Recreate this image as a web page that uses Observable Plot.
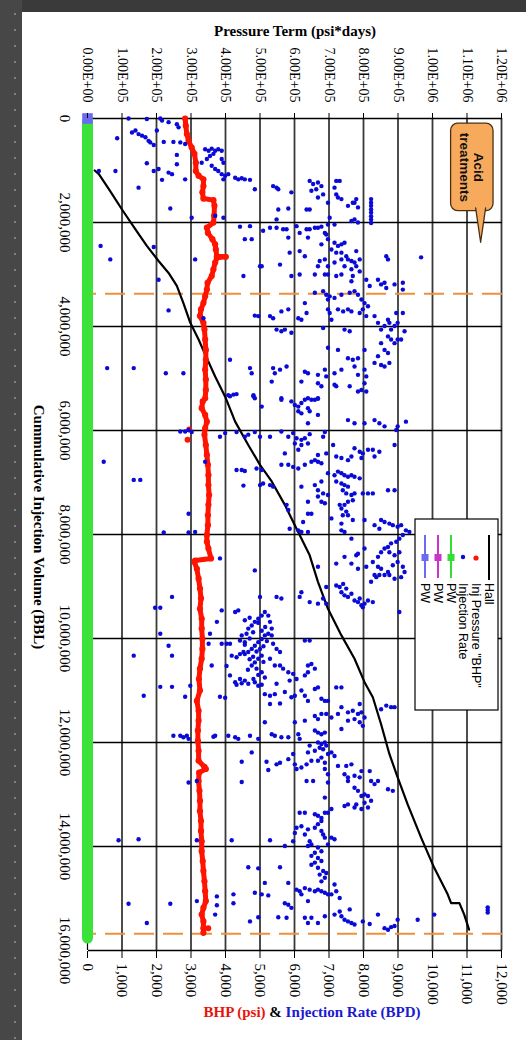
<!DOCTYPE html>
<html><head><meta charset="utf-8">
<script src="https://cdn.jsdelivr.net/npm/d3@7"></script>
<script src="https://cdn.jsdelivr.net/npm/@observablehq/plot@0.6"></script>
<style>
html,body{margin:0;padding:0;background:#3a3a3a;width:526px;height:1040px;overflow:hidden;}
#strip{position:absolute;left:0;top:0;width:22px;height:1040px;background-color:#474747;background-image:radial-gradient(circle,#808080 0.9px,transparent 1.4px);background-size:22px 16px;background-position:4px 6px;}
#page{position:absolute;left:22px;top:12px;width:504px;height:1028px;background:#fff;overflow:hidden;}
#land{position:absolute;left:0;top:0;width:1028px;height:504px;transform-origin:0 0;transform:translate(504px,0) rotate(90deg);}
</style></head>
<body>
<div id="strip"></div>
<div id="page"><div id="land"></div></div>
<script>
// ---- axis ticks and labels ----
const volTicks = [0, 2e6, 4e6, 6e6, 8e6, 10e6, 12e6, 14e6, 16e6];
const volTickLabels = ["0","2,000,000","4,000,000","6,000,000","8,000,000","10,000,000","12,000,000","14,000,000","16,000,000"];
const valTicks = [0,1000,2000,3000,4000,5000,6000,7000,8000,9000,10000,11000,12000];
const rateTickLabels = ["0","1,000","2,000","3,000","4,000","5,000","6,000","7,000","8,000","9,000","10,000","11,000","12,000"];
const hallTickLabels = ["0.00E+00","1.00E+05","2.00E+05","3.00E+05","4.00E+05","5.00E+05","6.00E+05","7.00E+05","8.00E+05","9.00E+05","1.00E+06","1.10E+06","1.20E+06"];
const hallMax = 1.2e6, rateMax = 12000;
const legendLabels = ["Hall","Inj Pressure \"BHP\"","Injection Rate","PW","PW","PW"];
const titleHall = "Pressure Term (psi*days)";
const titleVol = "Cummulative Injection Volume (BBL)";
const calloutText = "Acid\ntreatments";

// ---- series: [cumulative volume (MM bbl), value] ----
const hall = [[1.0,21000],[1.07,33000],[1.36,62000],[1.75,100000],[2.13,139000],[2.45,172000],[2.74,206000],[2.97,235000],[3.22,259000],[3.55,278000],[3.93,298000],[4.25,322000],[4.61,346000],[4.96,370000],[5.35,399000],[5.83,428000],[6.28,466000],[6.66,500000],[6.98,534000],[7.43,572000],[7.89,606000],[8.40,644000],[8.91,668000],[9.43,697000],[9.94,736000],[10.39,774000],[10.84,803000],[11.13,827000],[11.65,851000],[12.22,875000],[12.67,899000],[13.19,928000],[13.83,967000],[14.41,1005000],[14.92,1044000],[15.09,1054000],[15.09,1078000],[15.31,1092000],[15.60,1106000]];

const bhp = [[0.0,2830],[0.14,2850],[0.30,2880],[0.43,2930],[0.56,3020],[0.68,3100],[0.85,3140],[1.01,3140],[1.10,3220],[1.17,3360],[1.30,3360],[1.42,3330],[1.54,3360],[1.57,3650],[1.68,3680],[1.87,3670],[2.00,3650],[2.10,3460],[2.20,3490],[2.32,3620],[2.42,3700],[2.52,3720],[2.65,3750],[2.66,4010],[2.68,3750],[2.77,3700],[2.90,3650],[3.03,3600],[3.16,3480],[3.29,3460],[3.42,3410],[3.55,3360],[3.67,3290],[3.80,3260],[3.93,3360],[4.06,3390],[4.25,3410],[4.45,3430],[4.64,3430],[4.83,3410],[5.02,3430],[5.22,3430],[5.38,3410],[5.44,3340],[5.57,3310],[5.70,3410],[5.83,3460],[5.96,3410],[6.08,3390],[6.28,3430],[6.47,3460],[6.66,3490],[6.86,3505],[7.05,3505],[7.24,3525],[7.43,3505],[7.63,3490],[7.82,3490],[8.01,3460],[8.14,3460],[8.27,3505],[8.46,3580],[8.50,3120],[8.53,3100],[8.66,3170],[8.85,3220],[9.04,3260],[9.23,3290],[9.43,3260],[9.62,3310],[9.81,3310],[10.01,3330],[10.20,3330],[10.39,3310],[10.58,3260],[10.78,3230],[11.00,3260],[11.20,3170],[11.39,3220],[11.58,3220],[11.77,3200],[11.97,3200],[12.16,3220],[12.35,3220],[12.47,3390],[12.51,3430],[12.58,3235],[12.74,3220],[12.93,3245],[13.12,3260],[13.32,3260],[13.51,3290],[13.70,3290],[13.90,3310],[14.09,3310],[14.28,3340],[14.47,3360],[14.67,3390],[14.86,3410],[15.05,3430],[15.18,3360],[15.31,3310],[15.44,3360],[15.57,3360],[15.66,3360]];
const bhpOutliers = [[6.18,2900],[15.57,3500],[5.98,2950]];

const injectionRate = [
[0.0,1190],[0.01,1720],[0.0,2110],[0.04,2160],[0.07,2350],[0.11,2590],[0.17,2640],[0.23,2010],[0.27,1290],[0.23,1390],[0.30,1480],[0.33,1580],[0.36,1680],[0.43,1770],[0.46,1820],[0.38,860],[0.45,2210],[0.45,2490],[0.46,2690],[0.49,2830],[0.51,1920],[0.59,3410],[0.62,3510],[0.58,3600],[0.62,3700],[0.59,3790],[0.62,3890],[0.68,3650],[0.72,3550],[0.78,3460],[0.78,3890],[0.85,3940],[0.85,3310],[0.70,2590],[0.86,1720],[0.88,2590],[0.97,2060],[1.01,1920],[1.04,2350],[1.07,2450],[1.18,2160],[1.17,2830],[0.91,3600],[0.97,3700],[1.01,3790],[1.07,3890],[1.10,3990],[1.17,3940],[1.07,4080],[1.14,4280],[1.17,4370],[1.15,4470],[1.17,4560],[1.18,4710],[1.36,4850],[1.30,5380],[1.33,5480],[1.36,5530],[1.01,330],[1.01,810],[1.33,1480],[1.42,5910],[1.73,2400],[1.91,3020],[1.87,3700],[1.91,3940],
[1.20,6440],[1.26,6540],[1.23,6680],[1.30,6780],[1.36,6630],[1.39,6490],[1.46,6830],[1.52,6680],[1.20,7210],[1.20,7310],[1.33,7160],[1.46,7210],[1.52,7260],[1.55,7360],[1.55,7790],[1.62,7690],[1.68,7550],[1.71,7840],[1.62,7740],
[1.55,8220],[1.62,8220],[1.68,8220],[1.75,8220],[1.81,8220],[1.88,8220],[1.94,8220],[2.01,8220],
[1.62,6970],[1.73,5820],[1.75,5530],[1.75,6350],[1.75,6440],[1.91,7020],[1.94,5480],[1.94,7740],[1.97,7650],[2.00,7840],[2.04,6970],[2.04,7160],
[2.08,4420],[2.07,4710],[2.16,5090],[2.10,5290],[2.10,5480],[2.13,5670],[2.13,5770],[2.32,4560],[2.32,4760],[2.29,5820],[2.07,6060],[2.20,6150],[2.13,6350],[2.13,6440],[2.10,6590],[2.10,6680],[2.08,6780],[2.20,6880],[2.29,6390],[2.23,6920],[2.32,6970],[2.42,6780],[2.39,7160],[2.45,7260],[2.42,7360],[2.39,7450],[2.52,7070],[2.58,7210],[2.58,7360],[2.65,7500],[2.71,7550],[2.74,7650],[2.77,7740],[2.84,7790],[2.90,7650],[2.84,7450],[2.71,7360],[2.77,7160],[2.84,6970],[2.71,6880],[2.74,6730],[2.84,6680],[2.55,7790],[2.71,7890],[3.03,7690],[3.13,7650],[2.94,7890],
[2.58,5860],[2.55,6150],[2.65,6300],[2.81,5580],[2.84,5000],[2.84,5050],[3.03,4520],[3.03,5910],[3.00,6150],[3.00,6590],[3.00,6880],[3.00,6970],[3.03,7210],[3.00,7360],
[2.65,8660],[2.71,8710],[2.45,380],[2.71,660],[2.47,1920],[2.71,3120],[3.10,2060],
[3.10,8080],[3.22,8180],[3.10,8420],[3.19,8510],[3.16,8610],[3.26,8660],[3.19,8900],[3.16,9140],[3.29,9140],
[3.35,6590],[3.32,6830],[3.39,6920],[3.42,7020],[3.48,6970],[3.45,7160],[3.39,7360],[3.35,7600],[3.32,7740],[3.39,7840],[3.48,7940],[3.55,8030],[3.67,7980],[3.61,8130],[3.74,7890],[3.80,8080],[3.80,8320],[3.93,8420],[4.06,8510],[3.99,8610],[3.87,8710],[3.93,8750],[4.06,8800],[3.99,8900],[3.93,8990],[3.74,8950],[3.74,9140],[4.19,8710],[4.25,8800],[4.32,8900],[4.25,8990],[4.25,9090],[4.09,9190],[4.32,8510],[4.45,8610],[4.51,8710],[4.57,8420],[4.70,8320],[4.74,8510],[4.77,8610],[4.70,8750],
[3.55,6300],[3.74,6350],[3.67,5820],[3.71,5620],[3.84,5380],[3.80,5290],[3.79,4850],[3.80,4950],[3.84,6110],[3.87,6200],[3.67,6970],[3.74,7020],[3.87,7070],[3.67,7260],[3.71,7410],[3.67,7550],[3.71,7650],
[4.06,5480],[4.09,5620],[4.06,5720],[4.12,5910],[4.03,6830],[4.06,7450],[4.09,7600],[4.41,6970],[4.45,7260],[4.61,7550],[4.64,7690],[4.61,7840],[4.45,8030],[4.83,8030],[4.96,8080],[5.09,8030],
[4.64,4130],[4.80,4710],[4.90,4760],[4.80,5380],[4.90,5430],[4.83,5580],[4.77,5770],[5.06,5340],[4.87,6300],[4.90,6390],[4.93,6680],[4.83,6880],[4.96,6920],[4.90,7160],[4.83,7360],[4.77,7740],[4.93,7840],[5.06,6200],[5.09,6680],[5.15,6780],[5.12,7160],[5.15,7210],[5.15,7600],[5.25,7840],[5.22,7940],[5.25,8080],
[4.80,570],[4.80,1340],[4.90,2270],[4.90,2780],[3.69,2350],[3.84,3360],
[5.32,4080],[5.30,4320],[5.32,4810],[5.38,4850],[5.38,5620],[5.38,6390],[5.38,6680],[2.67,9670],
[5.34,4130],[5.31,4230],[5.34,4810],[5.54,5050],[5.41,5620],[5.44,5910],[5.51,6010],[5.54,6110],[5.47,6200],[5.41,6300],[5.57,6390],[5.63,6440],[5.41,6490],[5.41,6590],[5.39,6680],[5.63,6110],[5.67,6200],[5.70,6680],[5.86,6390],
[5.80,7550],[5.86,7740],[5.86,8030],[5.80,8320],[5.86,8460],[5.92,8610],[5.92,8990],[5.83,9230],[5.99,8950],
[6.02,2690],[6.02,2830],[5.99,2930],[6.03,3020],[6.12,3840],[6.05,3990],[6.03,4320],[6.12,4560],[6.08,4660],[6.03,4850],[6.12,5000],[6.12,5290],[6.02,5620],[6.12,5820],[6.05,5960],[6.15,6060],[6.18,6200],[6.15,6300],[6.07,6440],[6.12,6830],[6.03,6880],[6.28,6200],[6.25,6390],
[6.60,470],[6.95,1340],[6.95,1530],
[6.60,3410],[6.25,6010],[6.37,6110],[6.44,5720],[6.47,6680],[6.57,6590],[6.60,6680],[6.63,6780],[6.60,6490],[6.44,6920],[6.28,7120],[6.50,7210],[6.53,7360],[6.57,7550],[6.50,7650],[6.34,7740],[6.41,7890],[6.44,7980],[6.37,8130],[6.37,8270],[6.41,8460],[6.50,8320],[6.53,7940],[6.28,8900],
[6.76,4320],[6.76,4470],[6.78,4560],[6.73,4900],[6.76,5050],[6.66,5620],[6.66,5820],[6.70,5960],[6.73,6110],[6.66,6300],[7.06,4520],[7.05,5000],[7.02,5090],[7.05,5290],[7.08,5380],[7.08,6200],
[6.82,6970],[6.86,7160],[6.79,7260],[6.82,7360],[6.86,7450],[6.89,7550],[6.86,7650],[6.89,7740],[6.92,7890],[6.98,7210],[7.02,7360],[7.05,7450],[7.08,7550],[7.15,7400],[7.21,7500],[7.24,7650],[7.21,7740],[7.34,7690],[7.37,7550],[7.43,7450],[7.50,7360],[7.56,7500],[7.63,7550],[7.63,7400],[7.43,7310],
[7.05,6590],[6.98,6780],[7.15,6680],[7.21,6830],[7.24,6970],[7.27,6680],[7.37,6780],[7.40,6880],[7.37,6390],
[7.21,7980],[7.21,8130],[7.21,8270],[7.15,8710],[7.15,8900],
[7.60,2930],[7.43,5770],[7.53,5820],[7.60,6390],[7.60,6490],[7.69,7070],[7.79,7360],[7.72,7690],[7.72,8030],[7.76,6250],
[7.96,2210],[7.96,2930],[7.95,3120],[7.89,5860],[7.92,6110],[7.95,6200],[7.95,6390],[7.92,7360],[7.95,7450],[8.08,7650],
[7.72,8510],[7.76,8610],[7.79,8750],[7.82,8850],[7.85,8990],[7.82,9090],[7.92,9230],[7.95,9330],[8.01,9140],[8.08,9040],[8.14,8950],[8.17,8800],[8.24,8710],[8.27,8610],[8.34,8510],[8.43,8420],[8.34,8750],[8.40,8900],[8.34,9040],[7.82,8320],[7.89,8460],[8.27,8030],[8.40,7790],[8.37,7840],
[8.53,8270],[8.62,8420],[8.66,8510],[8.78,8610],[8.72,8710],[8.59,8850],[8.53,8990],[8.62,9140],[8.72,9190],[8.82,9090],[8.85,8900],[8.78,8750],[8.78,8320],[8.82,8370],[8.78,8460],[8.91,8220],[9.49,9040],
[8.46,3840],[8.69,4850],[8.62,6680],[8.56,7210],[8.43,7450],[8.56,7650],[8.66,7840],[8.62,8080],
[8.98,7210],[9.01,7310],[8.95,7410],[9.04,7500],[9.11,7360],[9.17,7450],[9.20,7550],[9.14,7650],[9.27,7740],[9.30,7840],[9.36,7940],[9.33,8030],[9.27,8130],[9.30,8270],[9.23,7890],[9.40,7980],
[9.01,6920],[9.23,6830],[9.33,6920],[9.33,6680],[9.30,6440],[9.20,6150],[9.11,6200],[9.20,5480],[9.20,5000],
[9.20,2450],[9.41,1960],[9.41,2110],
[9.46,3890],[9.49,4280],[9.46,4370],[9.75,4760],[9.68,4850],[9.62,4950],[9.56,5050],[9.49,5140],[9.56,5240],[9.68,5290],[9.81,5340],[9.91,5240],[9.94,5140],[10.01,5050],[10.07,4950],[10.14,4850],[10.20,4760],[10.26,4660],[10.30,4560],[9.81,4660],[9.91,4610],[9.94,4470],[10.04,4420],[10.07,4560],[10.20,5000],[10.33,5050],[10.39,4950],[10.46,4850],[10.52,4760],[10.58,4900],[10.65,5050],[10.75,5140],[10.78,4810],[10.81,4560],[10.78,4420],[10.84,4280],[10.71,4130],
[9.60,4700],[9.70,4950],[9.85,5050],[9.88,4800],[10.00,4700],[10.05,5200],[10.15,5100],[10.25,4900],[10.40,4700],[10.45,5100],[10.60,4650],[10.70,4950],[9.78,5150],[9.65,4560],[10.35,4800],
[10.33,4180],[10.36,4320],[10.30,4420],[10.26,4520],[10.10,3890],[10.10,4030],[10.10,4130],[10.12,4560],[10.10,5380],[10.20,5480],[10.26,5580],[10.39,5290],[10.52,5430],[10.52,5580],[10.58,5670],[10.65,5820],[10.81,5860],[10.68,5960],[10.78,6060],[10.71,6300],[10.52,6390],[10.49,6490],[10.58,6590],[10.65,6390],[10.04,6300],[10.04,6440],
[9.23,5620],[9.94,5340],
[9.91,2110],[10.14,2350],[10.33,2450],[10.33,1340],[9.91,3550],[10.10,3510],[10.52,3600],[9.68,3750],[10.53,4030],
[11.10,1630],[10.93,2110],[10.93,2450],[11.12,2830],[10.91,2980],[11.12,3840],[11.14,3990],[10.89,4320],[10.86,4470],[10.87,4660],[10.84,4850],[10.91,4950],[10.89,5050],[11.07,5140],[11.10,5290],[11.07,5430],[11.25,5580],[11.26,5290],[10.87,5480],[11.03,5720],[11.13,5910],[11.10,6010],[11.00,6200],[11.10,6300],[11.20,6390],[10.97,6590],[10.94,6680],[11.16,6780],[11.20,6880],[11.20,6970],[10.94,7210],[10.94,7360],
[11.61,5140],[11.61,6010],[11.58,6300],[11.49,6590],[11.55,6680],[11.45,6780],[11.45,6920],[11.52,7070],[11.45,7260],[11.32,7360],[11.42,7550],[11.39,7690],[11.45,7840],[11.42,7940],[11.52,8030],[11.61,7890],[11.68,7980],[11.26,7890],[11.36,8510],[11.29,8660],[11.32,8800],[11.32,8900],[11.74,7360],[11.58,7550],[11.55,7740],
[11.87,2490],[11.87,2690],[11.90,2780],[11.87,2880],[11.93,2930],[11.89,3650],[11.87,3700],[11.87,4080],[11.90,4280],[11.93,4370],[11.87,4710],[11.93,4950],[11.84,5340],[11.87,5430],[11.90,5620],[11.90,5820],[11.84,6110],[11.93,6150],
[11.77,6590],[11.81,6680],[11.84,6780],[11.81,6880],[12.00,6680],[12.03,6780],[12.00,6880],[12.10,6730],[12.13,6830],[12.06,6920],[12.16,6590],
[12.37,4470],[12.19,4760],[12.37,5190],[12.53,5240],[12.42,5480],[12.39,5580],[12.32,5820],[12.22,5960],[12.42,6010],[12.51,6060],[12.48,6200],[12.42,6350],[12.19,6390],[12.06,6440],[12.35,6490],[12.35,6680],[12.29,6780],[12.39,6880],[12.22,6970],[12.19,7070],[12.26,7160],[12.51,6880],[12.61,6970],[12.45,7260],[12.45,7500],[12.42,7650],[12.61,7450],[12.67,7550],[12.64,7740],[12.67,7890],[12.55,7940],[12.55,8180],[12.74,8220],[12.80,8320],[12.74,8420],[12.74,7550],[12.87,7740],[12.93,7840],[13.03,7940],[13.00,8030],[13.03,8130],[13.12,8220],[13.16,8030],[13.25,8130],[13.28,7940],[13.19,7790],[13.25,7740],[13.19,7550],[13.22,7450],[12.90,8710],[12.93,8850],
[12.76,4470],[12.74,6350],[12.74,6540],[12.77,6970],[13.06,6880],[12.77,2930],[12.74,3170],
[13.35,6150],[13.35,6300],[13.38,6590],[13.41,6680],[13.45,6780],[13.35,6880],[13.35,6970],[13.28,7070],[13.51,6780],[13.57,6680],[13.64,6590],[13.70,6780],[13.77,6830],[13.83,6880],[13.83,7070],[13.86,7160],[13.64,6060],[13.61,6200],[13.67,6390],[13.74,6010],[13.77,6300],[13.90,6440],[13.96,6490],[13.99,6390],[14.02,6680],[14.09,6780],[14.12,6590],[14.18,6490],[14.22,6680],[14.28,6780],[14.31,6590],[14.35,6490],[14.41,6680],[14.47,6830],[14.51,6920],[14.54,6730],[14.60,6880],[14.67,6780],[13.96,6970],[13.90,5960],[13.99,5720],[13.88,5290],[13.88,4180],[13.88,3170],[13.86,1480],[13.88,900],
[14.40,4660],[14.42,4950],[14.40,5580],[14.70,5140],[14.70,5820],[14.89,4850],[14.92,5050],[14.94,5240],[14.83,6060],[14.86,6150],[14.80,6300],[14.83,6440],[14.86,6590],[14.83,6680],[14.86,6780],[14.89,6880],[14.92,6970],[14.92,7070],[14.73,7160],[14.86,7210],[14.99,7310],[14.92,6200],[15.05,6390],[15.09,5720],[15.12,5820],[15.18,5910],[15.37,5770],[15.36,5530],[15.37,6300],[15.47,6390],[15.37,6490],[15.47,6680],[15.34,6880],[15.31,7160],[15.25,7310],[15.34,7360],[15.41,7450],[15.44,7550],[15.47,7650],[15.50,7740],[15.21,7600],[15.44,7980],[15.49,8180],[15.31,8420],[15.57,8610],[15.60,8710],[15.55,8800],[15.53,8900],[15.41,8990],[15.41,9570],[15.31,10050],[15.36,4950],[15.44,4710],
[15.10,1190],[15.10,2400],[15.47,1720],[14.96,3750],[14.92,4230],[15.13,3750],[15.09,4230],[15.31,3700],[15.05,3170],
[15.17,11600],[15.22,11600],[15.27,11600]
];

const pwGreen = [[0.07,0],[15.76,0]];
const pwBlue = [[0.0,0]];
const acidTreatmentVol = [3.37, 15.68];
const calloutBox = {vol1:0.10, vol2:1.78, val1:10510, val2:11740};
const calloutPointer = [[1.72,11540],[2.38,11395],[1.72,11250]];

// ---- tables ----
const MM = 1e6;
const toRows = (arr, key) => arr.map(([v, y]) => ({vol: v * MM, [key]: y}));
const hallRows = hall.map(([v, t]) => ({vol: v * MM, y: t / hallMax * rateMax}));
const bhpRows = toRows(bhp, "y");
const bhpOutRows = toRows(bhpOutliers, "y");
const rateRows = toRows(injectionRate, "y");
const greenRows = toRows(pwGreen, "y");
const blueRows = toRows(pwBlue, "y");
const ptrRows = toRows(calloutPointer, "y");
const tickIdx = (arr) => (d) => arr[valTicks.indexOf(d)];

const orange = "#f0903e";
const W = 1028, H = 504;
const chart = Plot.plot({
  width: W, height: H,
  marginLeft: 106, marginRight: 90, marginTop: 24, marginBottom: 66,
  style: {fontFamily: "'Liberation Serif','Times New Roman',serif", fontSize: "15px", color: "#000", background: "#fff", overflow: "visible"},
  x: {domain: [0, 16e6]},
  y: {domain: [0, 12000]},
  marks: [
    Plot.ruleY(valTicks.filter(d => d > 0), {stroke: "#3a3a3a", strokeWidth: 1.8}),
    Plot.ruleX(volTicks, {stroke: "#000", strokeWidth: 1.4}),
    Plot.ruleY([0], {stroke: "#000", strokeWidth: 1.2}),
    Plot.ruleX(acidTreatmentVol.map(d => d * MM), {stroke: orange, strokeWidth: 2, strokeDasharray: "20,9"}),
    Plot.line(hallRows, {x: "vol", y: "y", stroke: "#000", strokeWidth: 2.2}),
    Plot.line(bhpRows, {x: "vol", y: "y", stroke: "#ff1400", strokeWidth: 5}),
    Plot.dot(bhpRows, {x: "vol", y: "y", r: 3.1, fill: "#ff1400"}),
    Plot.dot(bhpOutRows, {x: "vol", y: "y", r: 3, fill: "#ff1400"}),
    Plot.dot(rateRows, {x: "vol", y: "y", r: 2.2, fill: "#0a0ad8"}),
    Plot.line(greenRows, {x: "vol", y: "y", stroke: "#3ae23a", strokeWidth: 11}),
    Plot.dot(blueRows, {x: "vol", y: "y", symbol: "square", r: 6, fill: "#6b6bf2"}),
    Plot.rect([calloutBox], {x1: d => d.vol1 * MM, x2: d => d.vol2 * MM, y1: "val1", y2: "val2", fill: "#f7aa5c", stroke: "#4a3010", strokeWidth: 1.3, rx: 7}),
    Plot.line(ptrRows, {x: "vol", y: "y", fill: "#f7aa5c", stroke: "#4a3010", strokeWidth: 1.3}),
    Plot.text([calloutText], {x: (calloutBox.vol1 + calloutBox.vol2) / 2 * MM, y: (calloutBox.val1 + calloutBox.val2) / 2, text: d => d, fontFamily: "'Liberation Sans',Arial,sans-serif", fontWeight: "bold", fontSize: 13.5, lineHeight: 1.05, fill: "#111"}),
    Plot.axisY({ticks: valTicks, anchor: "left", tickFormat: tickIdx(hallTickLabels), tickSize: 5, tickPadding: 11, fontSize: 14, label: null}),
    Plot.axisY({ticks: valTicks, anchor: "right", tickFormat: tickIdx(rateTickLabels), tickSize: 7, tickPadding: 6, fontSize: 15, label: null}),
    Plot.axisX({ticks: volTicks, anchor: "bottom", tickFormat: d => volTickLabels[volTicks.indexOf(d)], tickSize: 0, tickPadding: 17, fontSize: 15, label: null})
  ]
});

const svg = d3.select(chart);
// axis titles
svg.append("text").attr("transform", "translate(19,231) rotate(-90)")
  .attr("text-anchor", "middle").attr("dominant-baseline", "central")
  .attr("font-weight", "bold").attr("font-size", 15).text(titleHall);
svg.append("text").attr("transform", "translate(515,487)")
  .attr("text-anchor", "middle").attr("dominant-baseline", "central")
  .attr("font-weight", "bold").attr("font-size", 15).text(titleVol);
const rt = svg.append("text").attr("transform", "translate(1000,214) rotate(-90)")
  .attr("text-anchor", "middle").attr("dominant-baseline", "central")
  .attr("font-weight", "bold").attr("font-size", 15);
rt.append("tspan").attr("fill", "#e8140c").text("BHP (psi)");
rt.append("tspan").attr("fill", "#000").text(" & ");
rt.append("tspan").attr("fill", "#1a1ad0").text("Injection Rate (BPD)");

// legend
const lg = svg.append("g").attr("font-family", "'Liberation Sans',Arial,sans-serif").attr("font-size", 12.5).attr("text-anchor", "start");
lg.append("rect").attr("x", 507).attr("y", 28).attr("width", 191).attr("height", 83)
  .attr("fill", "#fff").attr("stroke", "#000").attr("stroke-width", 1.2);
const rowY = [37, 50, 63, 75, 88, 101];
const pwColors = ["#33dd33", "#cc33cc", "#6b6bf2"];
legendLabels.forEach((lab, i) => {
  const y = rowY[i];
  if (i === 0) lg.append("line").attr("x1", 523).attr("x2", 568).attr("y1", y).attr("y2", y).attr("stroke", "#000").attr("stroke-width", 2);
  if (i === 1) lg.append("circle").attr("cx", 546).attr("cy", y).attr("r", 2.6).attr("fill", "#ff1400");
  if (i === 2) lg.append("circle").attr("cx", 545).attr("cy", y).attr("r", 2.2).attr("fill", "#0a0ad8");
  if (i >= 3) {
    const c = pwColors[i - 3];
    lg.append("line").attr("x1", 523).attr("x2", 566).attr("y1", y).attr("y2", y).attr("stroke", c).attr("stroke-width", 2);
    lg.append("rect").attr("x", 542).attr("y", y - 3.5).attr("width", 7).attr("height", 7).attr("fill", c);
  }
  lg.append("text").attr("x", 571).attr("y", y).attr("text-anchor", "start").attr("dominant-baseline", "central").attr("fill", "#000").text(lab);
});

document.getElementById("land").appendChild(chart);
</script>
</body></html>
